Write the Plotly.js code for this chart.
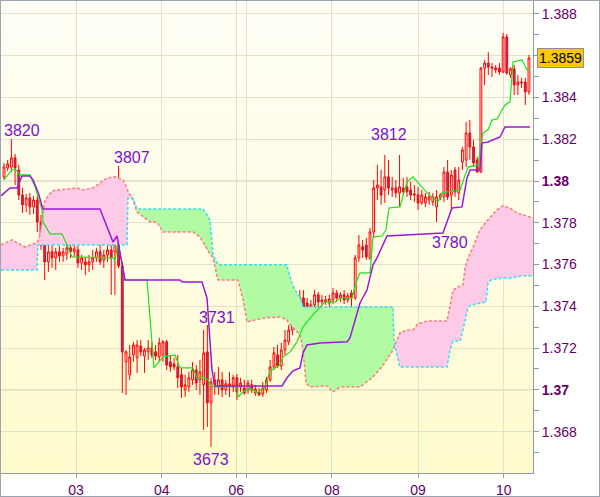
<!DOCTYPE html>
<html><head><meta charset="utf-8">
<script src="https://cdn.plot.ly/plotly-3.0.1.min.js"></script>
<style>
html,body{margin:0;padding:0;background:#fff;}
#wrap{position:relative;width:600px;height:497px;overflow:hidden;}
#bg{position:absolute;left:1px;top:1px;width:532px;height:472px;background:linear-gradient(to bottom,#fefef6 0%,#fffde6 50%,#fffbcc 100%);}
#chart{position:absolute;left:0;top:0;width:600px;height:497px;}
#frame{position:absolute;left:0;top:0;width:600px;height:497px;box-sizing:border-box;border:1px solid #9aa5b1;pointer-events:none;}
</style></head>
<body><div id="wrap"><div id="bg"></div><div id="chart"></div><div id="frame"></div></div>
<script>
// ---- candles (hourly bars) ----
const barOpen = [
1.38020,1.38063,1.38067,1.38111,1.38053,1.37933,1.37886,1.37919,1.37876,1.37909,
1.37804,1.37694,1.37613,1.37661,1.37632,1.37661,1.37642,1.37651,1.37680,1.37661,
1.37670,1.37608,1.37613,1.37599,1.37613,1.37632,1.37661,1.37622,1.37646,1.37670,
1.37661,1.37718,1.37594,1.37134,1.37072,1.37167,1.37153,1.37210,1.37162,1.37182,
1.37201,1.37182,1.37158,1.37167,1.37230,1.37134,1.37124,1.37110,1.37072,1.37000,
1.37014,1.37048,1.37095,1.37048,1.37024,1.37182,1.36938,1.37024,1.37014,1.37048,
1.37000,1.37019,1.37014,1.37058,1.37014,1.37009,1.37000,1.37024,1.36985,1.36990,
1.36981,1.37000,1.37048,1.37110,1.37167,1.37115,1.37191,1.37230,1.37287,1.37368,
1.37407,1.37440,1.37416,1.37392,1.37407,1.37455,1.37421,1.37421,1.37416,1.37431,
1.37464,1.37440,1.37455,1.37431,1.37464,1.37440,1.37632,1.37685,1.37694,1.37632,
1.37756,1.37967,1.37972,1.37957,1.38020,1.37957,1.37967,1.37943,1.37967,1.37972,
1.37957,1.37933,1.37933,1.37895,1.37895,1.37909,1.37900,1.37876,1.37919,1.37924,
1.38043,1.37933,1.38053,1.37943,1.38091,1.38101,1.38230,1.38163,1.38101,1.38043,
1.38541,1.38565,1.38546,1.38541,1.38541,1.38522,1.38690,1.38508,1.38537,1.38460,
1.38474,1.38474,1.38427];
const barHigh = [
1.38087,1.38101,1.38201,1.38130,1.38077,1.37967,1.37938,1.37943,1.37929,1.37929,
1.37838,1.37727,1.37694,1.37699,1.37680,1.37689,1.37680,1.37699,1.37708,1.37694,
1.37689,1.37646,1.37632,1.37646,1.37670,1.37680,1.37694,1.37670,1.37694,1.37718,
1.37732,1.38072,1.37613,1.37191,1.37215,1.37230,1.37239,1.37239,1.37201,1.37239,
1.37230,1.37215,1.37249,1.37239,1.37239,1.37167,1.37153,1.37167,1.37105,1.37072,
1.37086,1.37134,1.37119,1.37143,1.37287,1.37311,1.37058,1.37086,1.37110,1.37086,
1.37048,1.37086,1.37072,1.37076,1.37058,1.37048,1.37048,1.37048,1.37024,1.37009,
1.37038,1.37062,1.37143,1.37206,1.37215,1.37225,1.37287,1.37311,1.37431,1.37455,
1.37478,1.37478,1.37440,1.37431,1.37478,1.37469,1.37455,1.37450,1.37455,1.37488,
1.37478,1.37469,1.37478,1.37464,1.37478,1.37646,1.37742,1.37718,1.37727,1.37775,
1.38005,1.38077,1.38053,1.38125,1.38101,1.38020,1.38005,1.38125,1.38015,1.38020,
1.37996,1.37981,1.37972,1.37957,1.37943,1.37948,1.37943,1.37957,1.37943,1.38067,
1.38101,1.38053,1.38067,1.38067,1.38163,1.38283,1.38292,1.38197,1.38116,1.38546,
1.38580,1.38618,1.38565,1.38556,1.38565,1.38709,1.38704,1.38546,1.38556,1.38508,
1.38494,1.38494,1.38604];
const barLow = [
1.38005,1.38048,1.38043,1.37981,1.37909,1.37847,1.37852,1.37838,1.37842,1.37756,
1.37670,1.37526,1.37565,1.37584,1.37574,1.37613,1.37613,1.37622,1.37632,1.37637,
1.37584,1.37574,1.37550,1.37565,1.37574,1.37613,1.37599,1.37584,1.37613,1.37455,
1.37455,1.37584,1.36985,1.36976,1.37048,1.37134,1.37081,1.37162,1.37081,1.37143,
1.37153,1.37143,1.37134,1.37134,1.37095,1.37086,1.37095,1.37009,1.36961,1.36966,
1.36990,1.37024,1.37000,1.36976,1.36808,1.36823,1.36727,1.36976,1.36976,1.36966,
1.36976,1.36966,1.36990,1.36952,1.36990,1.36976,1.36981,1.36985,1.36971,1.36971,
1.36966,1.36985,1.37038,1.37095,1.37105,1.37095,1.37167,1.37215,1.37263,1.37335,
1.37335,1.37335,1.37373,1.37373,1.37383,1.37392,1.37402,1.37407,1.37397,1.37411,
1.37421,1.37421,1.37411,1.37416,1.37368,1.37431,1.37613,1.37632,1.37622,1.37622,
1.37727,1.37909,1.37886,1.37895,1.37933,1.37924,1.37919,1.37876,1.37933,1.37924,
1.37909,1.37900,1.37862,1.37886,1.37876,1.37886,1.37881,1.37804,1.37909,1.37900,
1.37909,1.37862,1.37924,1.37909,1.38053,1.38067,1.38101,1.38067,1.38039,1.38039,
1.38460,1.38508,1.38498,1.38517,1.38508,1.38517,1.38508,1.38494,1.38412,1.38412,
1.38446,1.38364,1.38412];
const barClose = [
1.38067,1.38082,1.38111,1.38063,1.37933,1.37886,1.37919,1.37876,1.37909,1.37804,
1.37694,1.37613,1.37661,1.37632,1.37661,1.37642,1.37661,1.37680,1.37661,1.37675,
1.37608,1.37632,1.37599,1.37613,1.37632,1.37661,1.37613,1.37646,1.37670,1.37632,
1.37708,1.37594,1.37182,1.37182,1.37158,1.37215,1.37215,1.37182,1.37191,1.37201,
1.37167,1.37162,1.37225,1.37230,1.37119,1.37110,1.37110,1.37058,1.37014,1.37024,
1.37058,1.37095,1.37033,1.37086,1.37177,1.36938,1.37038,1.37048,1.37048,1.37000,
1.37029,1.37029,1.37058,1.36990,1.37033,1.36985,1.37033,1.37000,1.37004,1.36976,
1.37009,1.37048,1.37110,1.37177,1.37115,1.37191,1.37239,1.37287,1.37416,1.37440,
1.37445,1.37397,1.37397,1.37407,1.37455,1.37421,1.37431,1.37431,1.37435,1.37464,
1.37440,1.37455,1.37431,1.37450,1.37440,1.37632,1.37694,1.37670,1.37637,1.37756,
1.37967,1.37981,1.37933,1.38020,1.37967,1.37967,1.37943,1.37972,1.37948,1.37948,
1.37933,1.37938,1.37895,1.37933,1.37924,1.37924,1.37924,1.37924,1.37933,1.38043,
1.37924,1.38029,1.37948,1.38005,1.38149,1.38230,1.38163,1.38087,1.38043,1.38541,
1.38565,1.38546,1.38541,1.38532,1.38522,1.38690,1.38517,1.38537,1.38460,1.38474,
1.38470,1.38427,1.38589];

// ---- Ichimoku lines (bar index, price) ----
const tenkanX = [0,2.16,2.98,4.33,7.03,8.39,10.28,10.55,12.44,15.69,17.04,18.39,29.48,30.02,30.84,32.73,38.68,40.57,43.01,46.25,47.61,51.12,52.20,53.83,55.18,56.26,63.02,63.29,64.65,66.54,68.43,70.60,71.95,74.65,75.47,77.36,79.25,80.88,82.77,84.12,85.47,86.83,89.53,90.88,94.13,95.48,96.29,99.00,99.81,102.24,103.33,104.14,107.11,109.01,110.63,112.52,114.42,116.04,117.39,118.47,119.83,123.34,125.51,128.21,129.56,130.92,132.00,133.35,134.70,135.51,136.87,137.68,140.11,141.46,142.27];
const tenkanY = [1.38005,1.38053,1.38058,1.38029,1.38029,1.37972,1.37862,1.37804,1.37747,1.37747,1.37694,1.37637,1.37632,1.37622,1.37704,1.37526,1.37526,1.37105,1.37158,1.37167,1.37105,1.37105,1.37058,1.37062,1.37048,1.37014,1.37014,1.36966,1.36990,1.37009,1.36985,1.37014,1.37091,1.37119,1.37158,1.37182,1.37230,1.37301,1.37344,1.37368,1.37397,1.37421,1.37421,1.37440,1.37440,1.37526,1.37560,1.37560,1.37732,1.37737,1.37766,1.37871,1.37876,1.37996,1.38020,1.37981,1.37943,1.37919,1.37900,1.37943,1.37948,1.37957,1.38067,1.38077,1.38230,1.38245,1.38292,1.38297,1.38340,1.38364,1.38379,1.38570,1.38580,1.38532,1.38532];
const kijunX = [-0.81,1.62,3.52,4.87,7.03,7.84,9.20,10.55,25.97,29.48,30.57,32.73,47.61,48.15,53.56,54.91,56.26,57.07,75.20,76.55,78.17,80.06,80.88,81.96,85.47,92.78,93.59,94.40,96.29,98.19,99.81,100.89,102.51,103.60,118.74,120.64,121.18,123.88,125.24,126.05,128.75,129.29,130.92,134.16,135.51,142.27];
const kijunY = [1.37929,1.37967,1.37967,1.38024,1.38024,1.38005,1.37948,1.37866,1.37866,1.37708,1.37737,1.37526,1.37526,1.37517,1.37517,1.37440,1.37095,1.37019,1.37019,1.37058,1.37091,1.37105,1.37177,1.37215,1.37225,1.37230,1.37249,1.37301,1.37416,1.37478,1.37599,1.37632,1.37694,1.37737,1.37751,1.37852,1.37871,1.37876,1.38015,1.38053,1.38053,1.38182,1.38187,1.38211,1.38259,1.38259];
const cloudX = [-0.81,2.16,5.68,8.93,9.20,9.74,11.09,12.98,14.34,19.75,21.37,24.07,25.97,27.86,30.02,32.19,33.27,33.54,34.89,35.98,39.49,41.38,43.01,51.12,53.02,53.83,54.91,55.72,56.53,57.88,63.29,64.65,65.73,70.06,74.65,76.55,76.82,77.90,78.71,80.06,80.88,81.69,82.77,87.37,88.99,90.88,96.29,99.81,102.24,105.22,105.49,106.30,107.11,109.01,110.63,111.98,114.42,119.83,120.64,121.45,122.80,123.34,124.15,124.70,125.51,126.56,128.75,130.38,130.92,132.00,133.35,134.97,136.87,138.76,140.38,143.08];
const spanA = [1.37694,1.37718,1.37685,1.37704,1.37713,1.37742,1.37909,1.37952,1.37957,1.37967,1.37957,1.37967,1.37991,1.38015,1.38020,1.38005,1.37967,1.37952,1.37909,1.37852,1.37804,1.37804,1.37756,1.37756,1.37732,1.37708,1.37670,1.37651,1.37632,1.37526,1.37526,1.37431,1.37325,1.37344,1.37349,1.37335,1.37325,1.37306,1.37287,1.37263,1.37191,1.37033,1.37014,1.37019,1.36990,1.37014,1.37014,1.37062,1.37110,1.37191,1.37206,1.37239,1.37273,1.37287,1.37287,1.37316,1.37330,1.37330,1.37397,1.37478,1.37493,1.37498,1.37502,1.37584,1.37632,1.37670,1.37766,1.37804,1.37814,1.37833,1.37862,1.37881,1.37871,1.37847,1.37838,1.37823];
const spanB = [1.37574,1.37574,1.37574,1.37574,1.37694,1.37694,1.37694,1.37694,1.37694,1.37694,1.37694,1.37694,1.37694,1.37694,1.37694,1.37694,1.37694,1.37919,1.37919,1.37866,1.37866,1.37866,1.37866,1.37866,1.37866,1.37866,1.37838,1.37814,1.37646,1.37599,1.37599,1.37599,1.37599,1.37599,1.37599,1.37599,1.37574,1.37512,1.37478,1.37445,1.37397,1.37397,1.37397,1.37397,1.37397,1.37397,1.37397,1.37397,1.37397,1.37397,1.37225,1.37167,1.37110,1.37110,1.37110,1.37110,1.37110,1.37110,1.37191,1.37234,1.37234,1.37234,1.37287,1.37335,1.37397,1.37407,1.37416,1.37421,1.37512,1.37531,1.37531,1.37536,1.37536,1.37541,1.37546,1.37546];

// ---- swing labels (bar index of the extreme, price) ----
const swingBar = [2, 31, 55, 56, 103, 117];
const swingPrice = [1.3820, 1.3807, 1.3731, 1.3673, 1.3812, 1.3780];

// ---- axis ticks ----
const dayTickVals = [19.5, 42.7, 62.8, 65.7, 88.7, 112.0, 135.2];
const dayTickText = ['03', '04', '06', '', '08', '09', '10'];
const priceTickVals = [1.368,1.370,1.372,1.374,1.376,1.378,1.380,1.382,1.384,1.386,1.388];
const priceTickText = ['1.368','<b>1.37</b>','1.372','1.374','1.376','1.378','<b>1.38</b>','1.382','1.384','','1.388'];
const strongLevels = [1.370, 1.380];

// ---------------------------------------------------------------
const barIdx = barOpen.map((_, k) => k);

function cloudPieces(xs, a, b) {
  const pieces = [];
  let cur = null;
  for (let k = 0; k < xs.length; k++) {
    const up = a[k] >= b[k];
    if (cur && up !== cur.up) {
      const d0 = a[k-1] - b[k-1], d1 = a[k] - b[k];
      const t = d0 / (d0 - d1);
      const xi = xs[k-1] + t * (xs[k] - xs[k-1]);
      const yi = a[k-1] + t * (a[k] - a[k-1]);
      cur.x.push(xi); cur.a.push(yi); cur.b.push(yi);
      pieces.push(cur);
      cur = {up: up, x: [xi], a: [yi], b: [yi]};
    }
    if (!cur) cur = {up: up, x: [], a: [], b: []};
    cur.x.push(xs[k]); cur.a.push(a[k]); cur.b.push(b[k]);
  }
  pieces.push(cur);
  return pieces;
}

const traces = [];
cloudPieces(cloudX, spanA, spanB).forEach(p => {
  traces.push({
    type: 'scatter', mode: 'lines', hoverinfo: 'skip',
    x: p.x.concat(p.x.slice().reverse()),
    y: p.a.concat(p.b.slice().reverse()),
    fill: 'toself', fillcolor: p.up ? '#fdcbe7' : '#b2fba2',
    line: {width: 0, color: 'rgba(0,0,0,0)'}
  });
});
traces.push({type:'scatter', mode:'lines', hoverinfo:'skip', x: cloudX, y: spanA,
  line:{color:'#fa7b7b', width:1.5, dash:'3px,2px'}});
traces.push({type:'scatter', mode:'lines', hoverinfo:'skip', x: cloudX, y: spanB,
  line:{color:'#36dcf4', width:1.5, dash:'3px,2px'}});
traces.push({
  type:'candlestick', x: barIdx, open: barOpen, high: barHigh, low: barLow, close: barClose,
  increasing:{line:{color:'#ff0000', width:1}, fillcolor:'rgba(255,255,255,0)'},
  decreasing:{line:{color:'#ff0000', width:1}, fillcolor:'#6c4aa4'},
  whiskerwidth: 0, hoverinfo:'skip'
});
traces.push({type:'scatter', mode:'lines', hoverinfo:'skip', x: tenkanX, y: tenkanY,
  line:{color:'#1fe01f', width:1.2}});
traces.push({type:'scatter', mode:'lines', hoverinfo:'skip', x: kijunX, y: kijunY,
  line:{color:'#9a1ad6', width:1.5}});

const labelShift = [[11, 9], [13, 8.5], [10, 8], [0, -13.5], [4, 21], [13, -19.5]];
const annotations = swingBar.map((b, k) => ({
  x: b, y: swingPrice[k], xref:'x', yref:'y',
  text: String(Math.round(swingPrice[k] * 10000)).slice(-4),
  showarrow:false, xanchor:'center', yanchor:'middle',
  xshift: labelShift[k][0], yshift: labelShift[k][1],
  font:{family:'Liberation Sans, Arial, sans-serif', size:16, color:'#7d10cf'}
}));
const lastClose = barClose[barClose.length - 1];
annotations.push({
  x: 1.0526, xref:'paper', y: lastClose, yref:'y',
  text: lastClose.toFixed(4), showarrow:false, xanchor:'center', yanchor:'middle',
  bgcolor:'#f9c80f', bordercolor:'#8f8f8f', borderwidth:1, borderpad:1,
  font:{family:'Liberation Sans, Arial, sans-serif', size:14, color:'#000000'}
});

const shapes = strongLevels.map(v => ({
  type:'line', xref:'paper', x0:0, x1:1, yref:'y', y0:v, y1:v, layer:'below',
  line:{color:'#d3ceb0', width:1}
}));

const axisCol = '#8e9aa6';
const layout = {
  width:600, height:497,
  margin:{l:1, r:67, t:1, b:24, pad:0},
  paper_bgcolor:'rgba(0,0,0,0)', plot_bgcolor:'rgba(0,0,0,0)',
  showlegend:false,
  font:{family:'Liberation Sans, Arial, sans-serif', size:14, color:'#660066'},
  xaxis:{
    range:[-0.81, 143.09], tickmode:'array', tickvals: dayTickVals, ticktext: dayTickText,
    showgrid:true, gridcolor:'#e5e1c6', gridwidth:1, zeroline:false,
    showline:true, linecolor:axisCol, linewidth:1, mirror:true,
    ticks:'outside', ticklen:4, tickcolor:axisCol,
    rangeslider:{visible:false}, fixedrange:true,
    tickfont:{size:14, color:'#660066'}
  },
  yaxis:{
    side:'right', range:[1.36602, 1.38862],
    tickmode:'array', tickvals: priceTickVals, ticktext: priceTickText,
    showgrid:true, gridcolor:'#e5e1c6', gridwidth:1, zeroline:false,
    showline:true, linecolor:axisCol, linewidth:1, mirror:true,
    ticks:'outside', ticklen:5, tickcolor:axisCol,
    minor:{tickmode:'linear', tick0:1.368, dtick:0.001, ticks:'outside', ticklen:5, tickcolor:axisCol, showgrid:false},
    fixedrange:true,
    tickfont:{size:14, color:'#660066'}
  },
  shapes: shapes,
  annotations: annotations
};

Plotly.newPlot('chart', traces, layout, {displayModeBar:false, staticPlot:true});
</script></body></html>
